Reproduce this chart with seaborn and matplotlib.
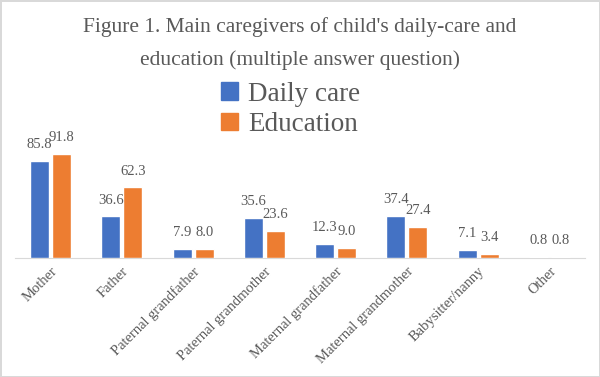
import pandas as pd
import matplotlib.pyplot as plt
import seaborn as sns

# values
caregivers = ['Mother', 'Father', 'Paternal grandfather', 'Paternal grandmother',
              'Maternal grandfather', 'Maternal grandmother', 'Babysitter/nanny', 'Other']
daily_care = [85.8, 36.6, 7.9, 35.6, 12.3, 37.4, 7.1, 0.8]
education = [91.8, 62.3, 8.0, 23.6, 9.0, 27.4, 3.4, 0.8]
series = ['Daily care', 'Education']
colors = ['#4472C4', '#ED7D31']

df = pd.DataFrame({
    'caregiver': caregivers * 2,
    'value': daily_care + education,
    'series': [series[0]] * len(caregivers) + [series[1]] * len(caregivers),
})

sns.set_style('white')
plt.rcParams['font.family'] = ['Liberation Serif', 'DejaVu Serif']
grey = '#595959'

fig = plt.figure(figsize=(6, 3.77), dpi=100, edgecolor='#d9d9d9', linewidth=2)
ax = fig.add_axes([0.025, 0.316, 0.95, 0.30])

sns.barplot(data=df, x='caregiver', y='value', hue='series', palette=colors,
            saturation=1, width=0.62, gap=0.14, ax=ax, legend=False, errorbar=None)

for c in ax.containers:
    ax.bar_label(c, fmt='%.1f', padding=7, fontsize=10.5, color=grey)

ax.set_ylim(0, 100)
ax.set_xlim(-0.5, len(caregivers) - 0.5)
ax.set_xlabel('')
ax.set_ylabel('')
ax.set_yticks([])
for s in ['top', 'right', 'left']:
    ax.spines[s].set_visible(False)
ax.spines['bottom'].set_color('#d9d9d9')
ax.spines['bottom'].set_zorder(0.5)  # keep tiny bars (0.8) visible over the axis line
ax.tick_params(axis='x', length=0, pad=5)
ax.set_xticks(range(len(caregivers)))
ax.set_xticklabels(caregivers, rotation=45, ha='right', rotation_mode='anchor',
                   fontsize=10.5, color=grey)

fig.text(0.5, 0.928, "Figure 1. Main caregivers of child's daily-care and",
         ha='center', va='center', fontsize=15.5, color=grey)
fig.text(0.5, 0.84, "education (multiple answer question)",
         ha='center', va='center', fontsize=15.5, color=grey)

handles = [plt.Rectangle((0, 0), 1, 1, color=c) for c in colors]
fig.legend(handles, series, loc='center', bbox_to_anchor=(0.485, 0.71),
           frameon=False, fontsize=19.5, handlelength=0.6, handleheight=0.6,
           handletextpad=0.4, labelspacing=0.2, labelcolor=grey)

fig.savefig('out.png', dpi=100)
